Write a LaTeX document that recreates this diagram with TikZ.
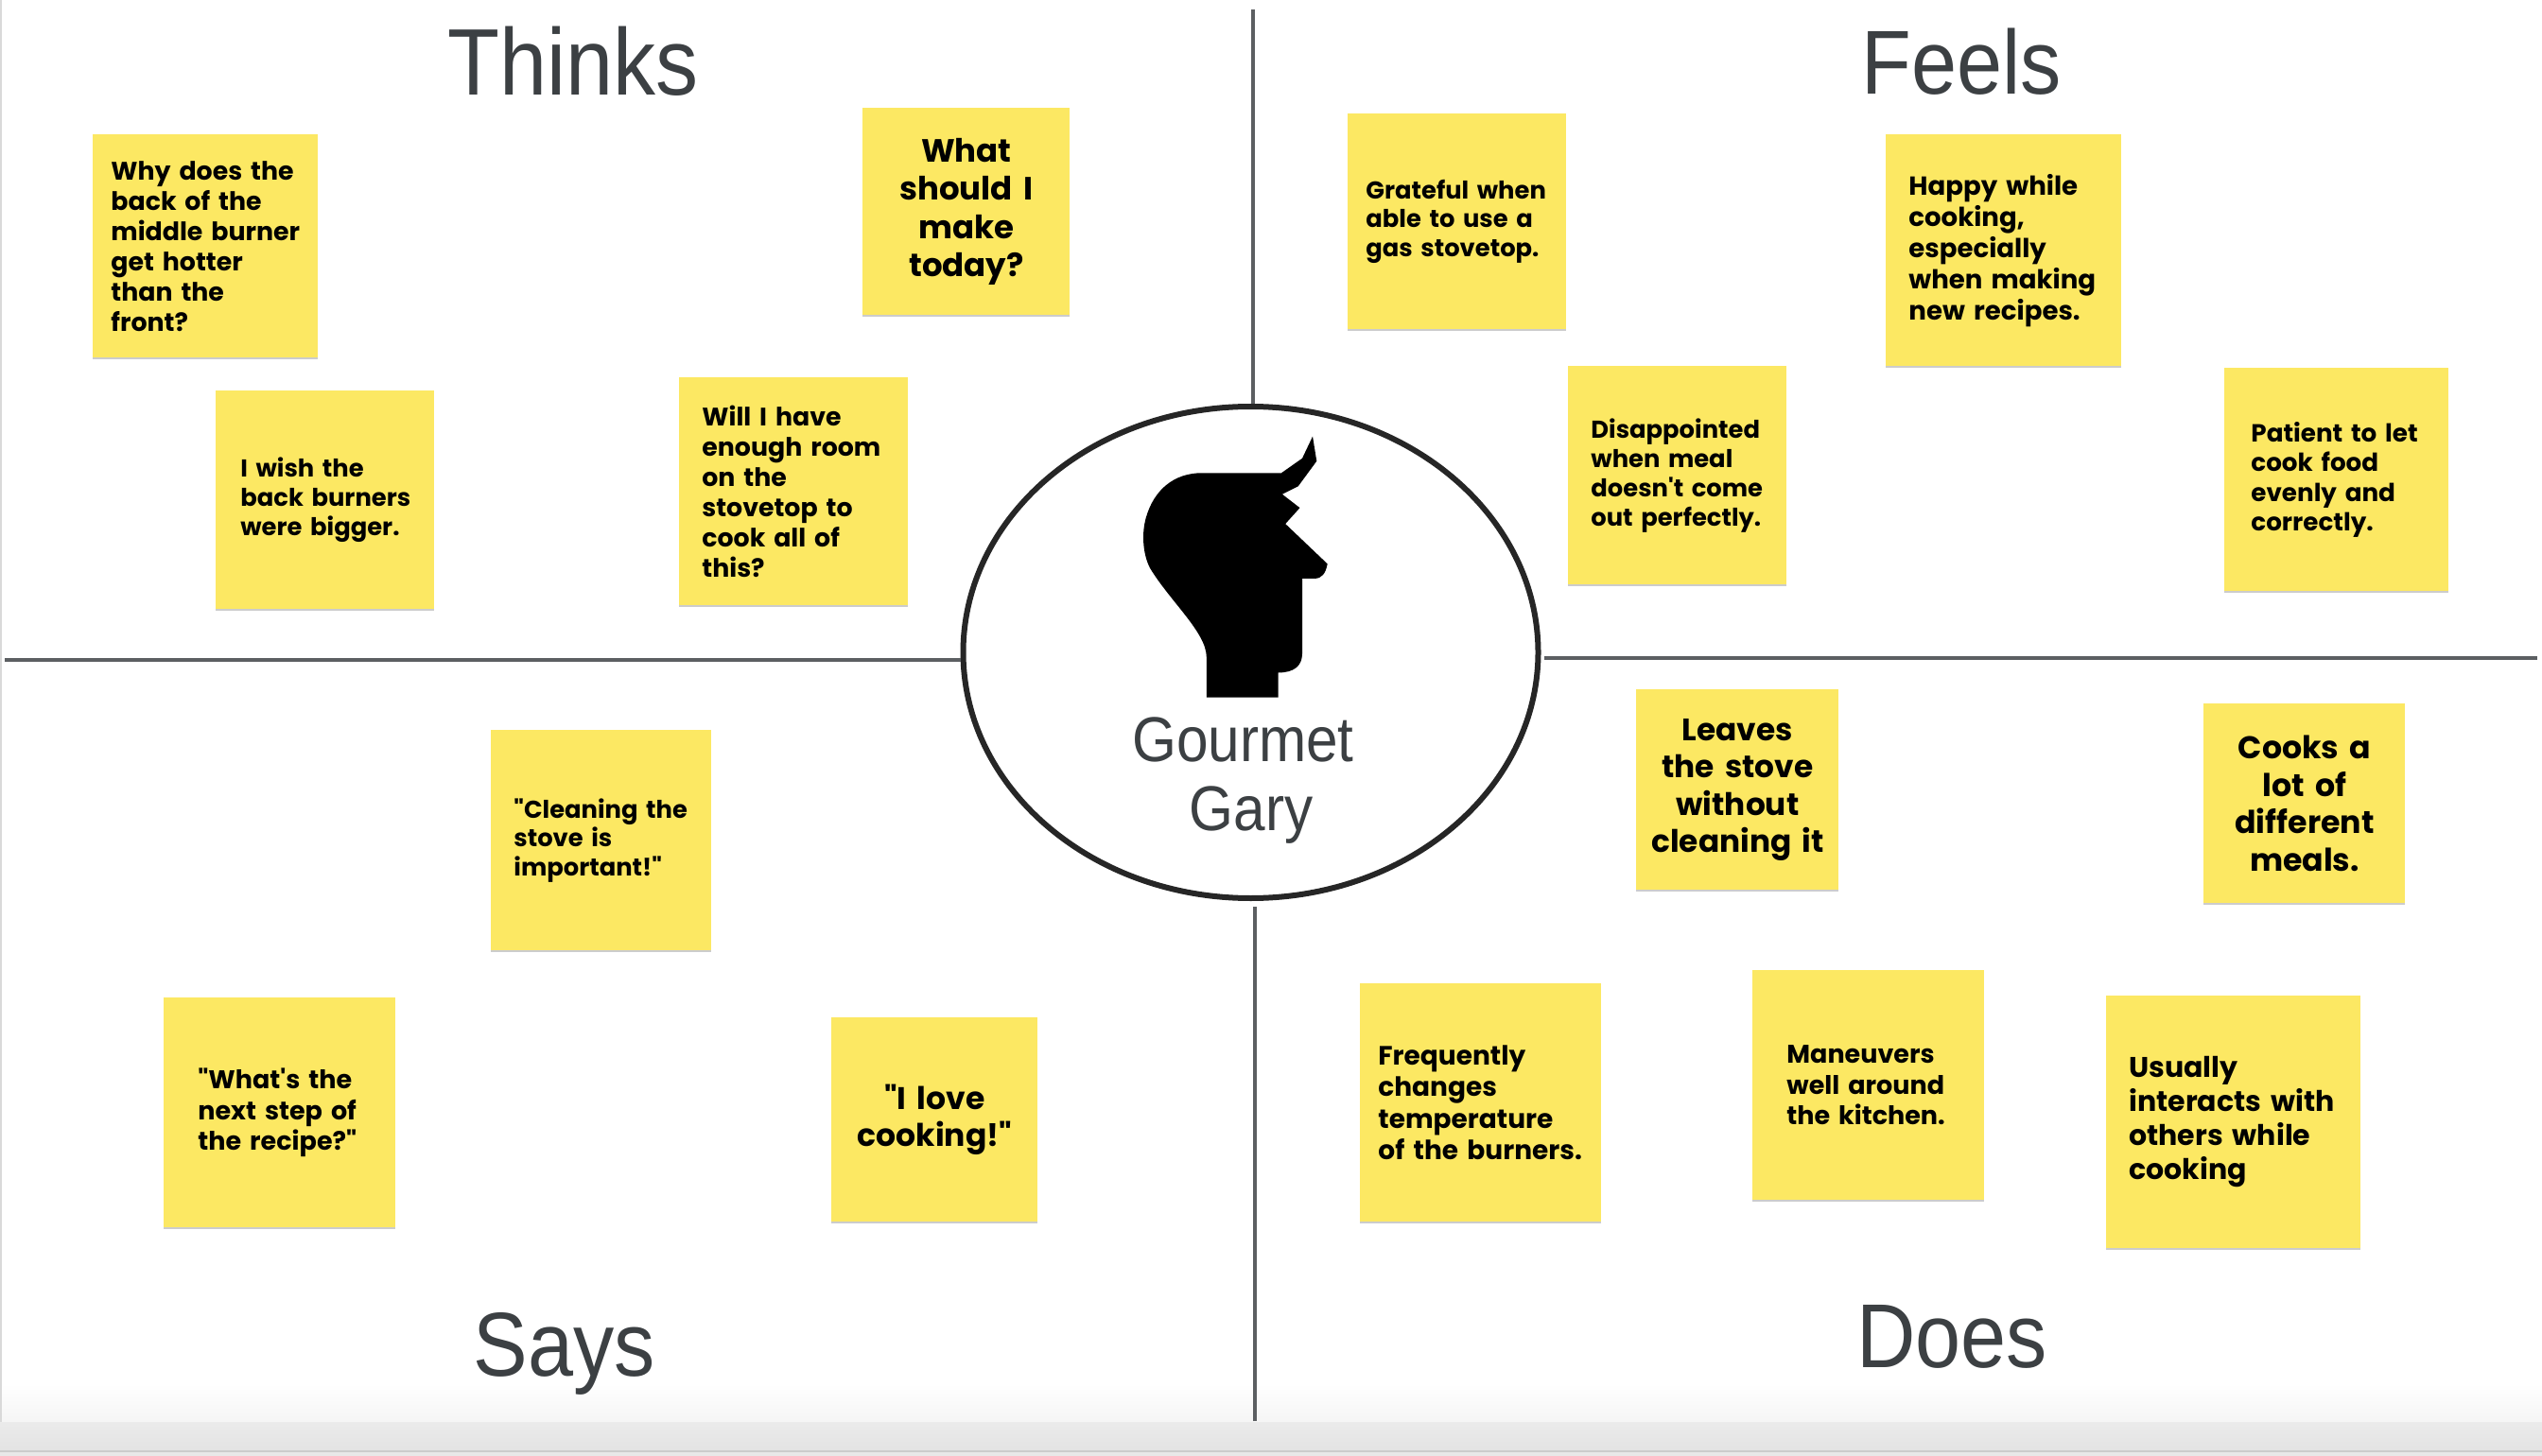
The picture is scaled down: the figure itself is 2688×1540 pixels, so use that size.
\documentclass[tikz,border=0pt]{standalone}
\usepackage{fontspec}
\setmainfont{Poppins}[Ligatures=TeXOff]
\newfontfamily\titlefont[FakeStretch=0.9]{Liberation Sans}
\usetikzlibrary{shapes.geometric,shadows,positioning}

\definecolor{stickyyellow}{HTML}{FCE863}
\definecolor{titlegray}{HTML}{3C4043}
\definecolor{linegray}{HTML}{5C5F62}

\tikzset{
    sticky/.style={rectangle, anchor=north west, fill=stickyyellow, inner xsep=0pt, inner ysep=0pt,
        general shadow={fill=black, opacity=0.2, shadow xshift=0pt, shadow yshift=-1pt}},
    noteleft/.style n args={3}{sticky, align=left, text width=#1*0.5pt, minimum height=#2*0.5pt,
        execute at begin node={\leftskip=#3\dimexpr0.5pt\relax}},
    notecenter/.style 2 args={sticky, align=center, text width=#1*0.5pt, minimum height=#2*0.5pt},
    notefont/.style 2 args={font=\fontsize{#1}{#2}\selectfont\bfseries},
    quadtitle/.style={anchor=base, text=titlegray, font=\titlefont\fontsize{48}{56}\selectfont},
    quadline/.style={draw=linegray, line width=1.6pt},
}

\begin{document}
\begin{tikzpicture}[x=0.5pt, y=-0.5pt]
    \useasboundingbox (0,0) rectangle (2688,1540);

    % Window edge at the bottom
    \fill[top color=white, bottom color=black!4] (0,1463) rectangle (2688,1504);
    \fill[top color=black!8, bottom color=black!11] (0,1504) rectangle (2688,1535);
    \fill[black!9] (0,1535) rectangle (2688,1540);
    \draw[black!20, line width=0.6pt] (0,1535) -- (2688,1535);
    \draw[black!15, line width=1pt] (0.8,0) -- (0.8,1504);

    % Persona in the middle
    \node[ellipse, draw=black!85, line width=3pt, fill=white, inner sep=0pt,
        minimum width=304pt, minimum height=260pt] (persona) at (1322.5,690) {};

    % Quadrant lines
    \coordinate (topEnd) at (1325,10);
    \coordinate (botEnd) at (1327,1503);
    \coordinate (leftEnd) at (5,698);
    \coordinate (rightEnd) at (2683,696);
    \draw[quadline] (topEnd) -- (topEnd |- persona.north);
    \draw[quadline, shorten >=3pt] (botEnd) -- (botEnd |- persona.south);
    \draw[quadline] (leftEnd) -- (leftEnd -| persona.west);
    \draw[quadline, shorten >=1.5pt] (rightEnd) -- (rightEnd -| persona.east);

    % Head
    \begin{scope}[shift={(1000,400)}, x=0.2118pt, y=-0.1843pt]
        \fill[black] (651,916) -- (651,800) .. controls (651,730) and (560,640) .. (510,545)
            .. controls (490,500) and (490,440) .. (500,400)
            .. controls (520,320) and (570,272) .. (640,272)
            -- (838,272) -- (890,230) -- (916,167) -- (926,238) -- (880,310) -- (840,333)
            -- (884,372) -- (848,418) -- (953,533)
            .. controls (948,560) and (940,575) .. (920,575)
            -- (890,575) -- (890,790) .. controls (890,825) and (870,845) .. (830,845)
            -- (830,916) -- cycle;
    \end{scope}
    \node[text=titlegray, font=\titlefont\fontsize{33.5}{36.5}\selectfont, align=center] (personaName) at (1323,826) {Gourmet\hspace*{8.6pt}\\Gary};

    % Quadrant titles
    \node[quadtitle] (thinks) at (606,101) {\fontsize{50}{56}\selectfont Thinks};
    \node[quadtitle] (feels) at (2074,100) {Feels};
    \node[quadtitle] (says) at (597,1455) {Says};
    \node[quadtitle] (does) at (2064,1446) {Does};

    % Thinks
    \node[noteleft={238}{236}{19}, notefont={13.4}{16}] (whyBack) at (98,142) {Why does the\\back of the\\middle burner\\get hotter\\than the\\front?};
    \node[noteleft={231}{231}{26}, notefont={12.9}{15.4}] (wishBack) at (228,413) {I wish the\\back burners\\were bigger.};
    \node[notecenter={219}{219}, notefont={17}{20.3}] (whatMake) at (912,114) {What\\should I\\make\\today?};
    \node[noteleft={242}{241}{24}, notefont={13.4}{16}] (enoughRoom) at (718,399) {Will I have\\enough room\\on the\\stovetop to\\cook all of\\this?};

    % Feels
    \node[noteleft={231}{228}{19}, notefont={12.9}{15.4}] (grateful) at (1425,120) {Grateful when\\able to use a\\gas stovetop.};
    \node[noteleft={249}{245}{24}, notefont={13.8}{16.5}] (happy) at (1994,142) {Happy while\\cooking,\\especially\\when making\\new recipes.};
    \node[noteleft={231}{231}{24}, notefont={12.9}{15.4}] (disappointed) at (1658,387) {Disappointed\\when meal\\doesn't come\\out perfectly.};
    \node[noteleft={237}{236}{28}, notefont={13.1}{15.8}] (patient) at (2352,389) {Patient to let\\cook food\\evenly and\\correctly.};

    % Says
    \node[noteleft={233}{233}{24}, notefont={12.9}{15.4}] (cleaning) at (519,772) {"Cleaning the\\stove is\\important!"};
    \node[noteleft={245}{243}{36}, notefont={13.5}{16.3}] (nextStep) at (173,1055) {"What's the\\next step of\\the recipe?"};
    \node[notecenter={218}{216}, notefont={16.5}{19.7}] (loveCooking) at (879,1076) {"I love\\cooking!"};

    % Does
    \node[notecenter={214}{212}, notefont={16.4}{19.7}] (leaves) at (1730,729) {Leaves\\the stove\\without\\cleaning it};
    \node[notecenter={213}{211}, notefont={16.6}{19.7}] (cooksLot) at (2330,744) {Cooks a\\lot of\\different\\meals.};
    \node[noteleft={255}{252}{19}, notefont={14}{16.7}] (changes) at (1438,1040) {Frequently\\changes\\temperature\\of the burners.};
    \node[noteleft={245}{243}{36}, notefont={13.5}{16.3}] (maneuvers) at (1853,1026) {Maneuvers\\well around\\the kitchen.};
    \node[noteleft={269}{267}{24}, notefont={15}{18}] (interacts) at (2227,1053) {Usually\\interacts with\\others while\\cooking};
\end{tikzpicture}
\end{document}
